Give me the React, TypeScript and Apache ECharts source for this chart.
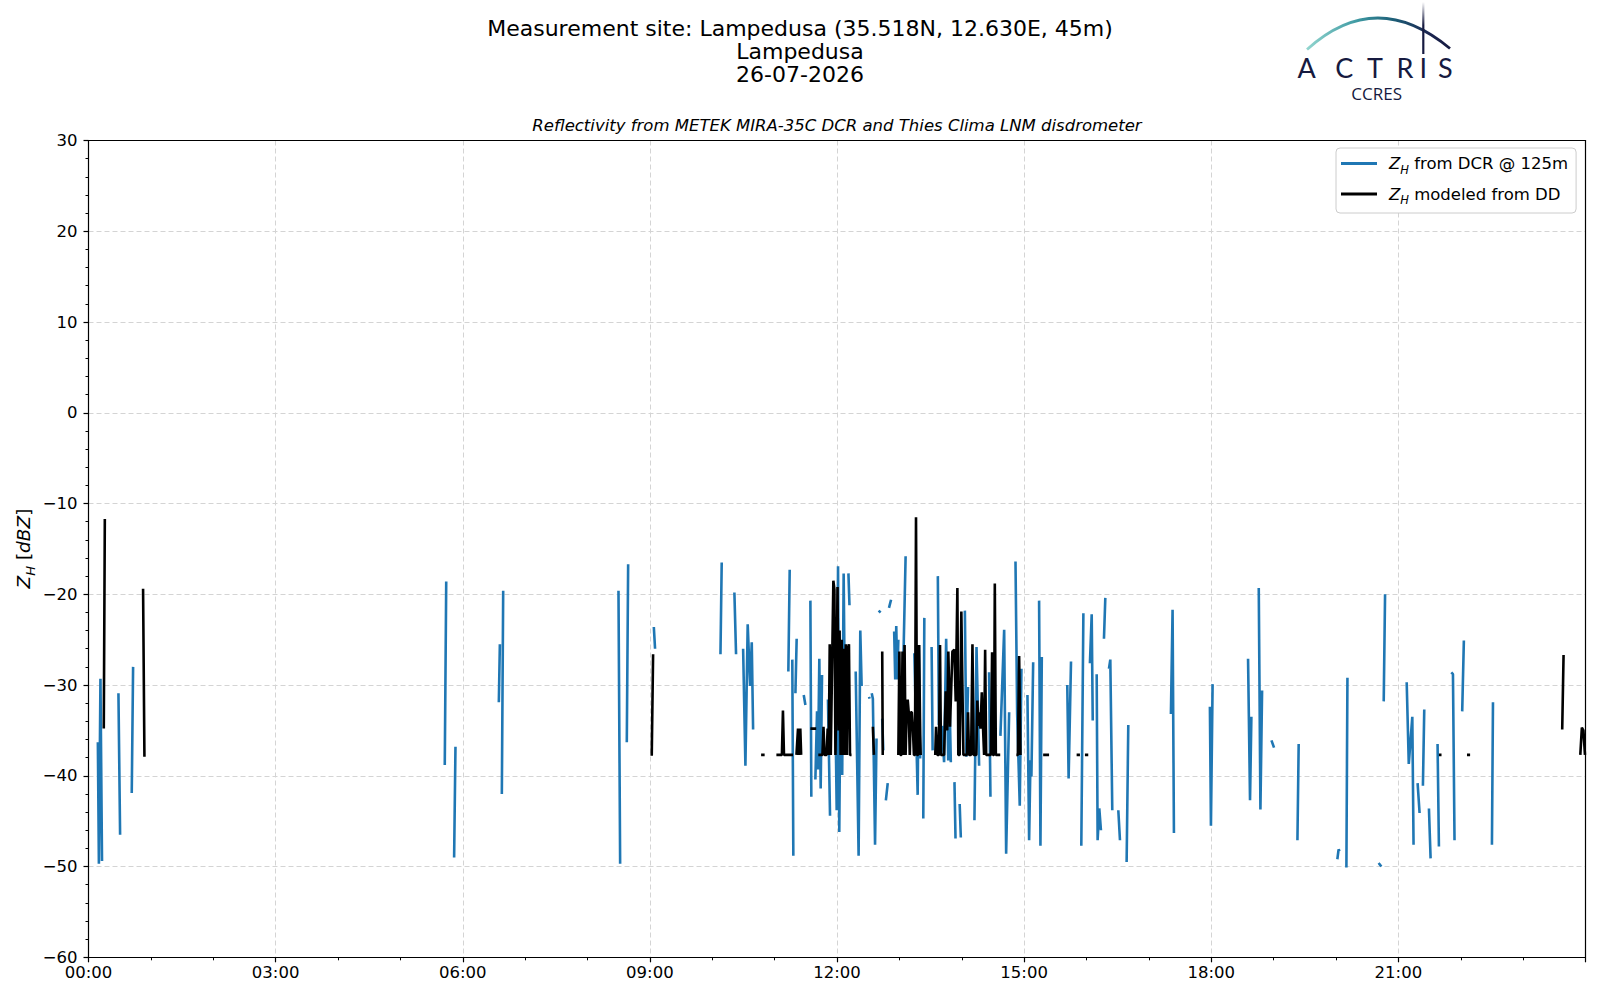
import React, { useEffect, useRef } from "react";
import * as echarts from "echarts";

// x axis: minutes after midnight, major ticks every 3 h
const xTickMinutes = [0, 180, 360, 540, 720, 900, 1080, 1260, 1440];
const yTicks = [-60, -50, -40, -30, -20, -10, 0, 10, 20, 30];

const titleLines = [
  "Measurement site: Lampedusa (35.518N, 12.630E, 45m)",
  "Lampedusa",
  "26-07-2026",
];
const subtitle = "Reflectivity from METEK MIRA-35C DCR and Thies Clima LNM disdrometer";
const legendNames = ["Z_H from DCR @ 125m", "Z_H modeled from DD"];

// Z_H from DCR @ 125m : [minute of day, dBZ], null = gap
const dcrPoints: ([number, number] | null)[] = [
  [9, -36.3], [10, -49.7], [11.5, -29.3], [13, -49.4], null,
  [28.8, -30.9], [30.4, -46.5], null,
  [41.6, -41.9], [42.9, -28.0], null,
  [342.7, -38.8], [344.1, -18.6], null,
  [351.7, -49.0], [353, -36.8], null,
  [394.7, -31.9], [395.7, -25.5], null,
  [397.6, -42.0], [398.9, -19.6], null,
  [509.8, -19.6], [511.4, -49.7], null,
  [517.8, -36.3], [519.1, -16.7], null,
  [543.8, -23.6], [545, -26.0], null,
  [607.9, -26.6], [609.1, -16.5], null,
  [621.3, -19.8], [622.9, -26.6], null,
  [629.7, -26.0], [631.9, -38.9], [634.1, -23.3], [636.4, -30.1], [638, -25.3], [639.3, -34.9], null,
  [673.2, -28.5], [674.5, -17.3], null,
  [677, -27.2], [678, -48.8], null,
  [680, -30.9], [681.2, -24.9], null,
  [688, -31.1], [689.6, -32.2], null,
  [694.4, -20.7], [695.3, -42.3], null,
  [699.2, -40.4], [700.8, -32.9], [701.7, -39.3], [703, -27.1], [704.3, -41.4], [705.6, -28.9], null,
  [711.3, -31.6], [713.3, -44.4], null,
  [718.7, -34.8], [719.7, -43.8], [721, -16.9], [722.2, -46.2], [723.2, -31.6], [725, -39.9], [726.4, -17.7], [727.5, -31.5], null,
  [731, -17.7], [732, -21.2], null,
  [738, -28.5], [740.8, -48.8], [742.4, -24.0], [743.7, -30.1], null,
  [750.8, -31.3], [751.4, -31.5], null,
  [753.4, -30.9], [754.5, -31.5], [756.6, -47.6], [758, -35.9], null,
  [760, -21.8], [762, -22.0], null,
  [763.5, -33.7], [764.5, -37.2], null,
  [767, -42.7], [768.8, -40.8], null,
  [770, -21.5], [772, -20.6], null,
  [775, -24.1], [776, -29.4], [777, -23.5], [778, -29.4], [779, -25.0], null,
  [783, -31.8], [786, -15.8], null,
  [794.4, -26.5], [797.6, -42.1], [798.8, -25.6], [800, -38.1], null,
  [803, -44.7], [804, -22.6], null,
  [811, -25.8], [812, -37.2], null,
  [817, -18.0], [818, -34.4], null,
  [821, -34.5], [823, -38.5], [825, -24.9], [827, -38.3], null,
  [828.5, -33.0], [829.5, -38.5], null,
  [833, -40.7], [834, -46.9], null,
  [838, -43.1], [839.1, -46.8], null,
  [843, -21.8], [844.5, -37.9], [846, -30.2], null,
  [852.2, -44.9], [854.2, -25.8], [856.7, -38.9], null,
  [866.3, -28.6], [867.6, -42.3], null,
  [877.2, -35.6], [880.8, -23.9], [882.7, -48.6], [885.6, -33.0], null,
  [891.7, -16.4], [893.3, -33.2], [895.8, -43.3], [897.4, -28.2], null,
  [903.2, -31.1], [904.8, -47.1], [906.1, -38.3], [907, -40.1], [908.7, -27.5], null,
  [914.4, -20.7], [915.7, -47.7], [917, -26.9], null,
  [941.5, -30.0], [942.8, -40.3], [945.1, -27.4], null,
  [955, -47.7], [957, -22.1], null,
  [963.3, -27.6], [965, -22.2], [966, -33.9], null,
  [969.8, -28.8], [970.7, -47.1], [972.3, -43.6], [973.9, -46.0], null,
  [976.8, -24.9], [978.1, -20.4], null,
  [981.6, -28.2], [982.9, -27.2], [984.8, -43.8], null,
  [990.6, -43.8], [992.2, -47.1], null,
  [998.6, -49.5], [1000.2, -34.4], null,
  [1041.2, -33.2], [1042.8, -21.7], [1044.1, -46.3], null,
  [1078.7, -32.4], [1079.7, -45.5], [1081.3, -29.9], null,
  [1115.4, -27.1], [1117.3, -42.7], [1118.6, -33.5], null,
  [1125.7, -19.3], [1127.3, -43.7], [1128.9, -30.6], null,
  [1137.9, -36.1], [1140.4, -36.9], null,
  [1162.9, -47.1], [1164.1, -36.5], null,
  [1201.3, -49.2], [1202.5, -48.1], [1203.5, -48.3], null,
  [1210, -50.1], [1211, -29.2], null,
  [1241, -49.6], [1243.6, -50.0], null,
  [1245.9, -31.8], [1247.2, -20.0], null,
  [1268, -29.7], [1270, -38.7], [1273.4, -33.5], [1274.6, -47.6], null,
  [1278.5, -40.8], [1280.4, -44.1], null,
  [1283.6, -41.1], [1284.9, -32.7], null,
  [1289.4, -43.6], [1291, -49.1], null,
  [1297.7, -36.5], [1299, -47.8], null,
  [1310.9, -28.6], [1312.5, -28.8], [1314, -47.1], null,
  [1321.4, -32.9], [1323, -25.1], null,
  [1350, -47.6], [1351, -31.9],
];

// Z_H modeled from disdrometer : [minute of day, dBZ], null = gap
const ddPoints: ([number, number] | null)[] = [
  [14.7, -34.8], [15.7, -11.7], null,
  [52.5, -19.4], [53.8, -37.9], null,
  [541.8, -37.8], [543.1, -26.6], null,
  [647, -37.7], [650.4, -37.7], null,
  [661.7, -37.7], [667, -37.7], [668, -32.8], [669, -37.7], [677.7, -37.7], null,
  [681, -37.7], [682.5, -34.8], [683.5, -37.7], [684.7, -34.8], [685.5, -37.7], null,
  [694.4, -34.8], [700, -34.8], null,
  [702, -37.7], [706, -37.7], [707, -34.6], [708, -37.7], [710, -37.7], [711, -34.8], [712, -37.7],
  [713, -25.5], [714, -37.7], [715, -30.0], [716.5, -18.5], [717.5, -19.5], [718.5, -37.7],
  [719.5, -30.0], [720.5, -19.2], [721.5, -35.0], [722.5, -24.0], [723.5, -37.7], [724.5, -25.0],
  [725.5, -37.7], [726.5, -26.0], [727.5, -37.7], [728.5, -25.5], [729.5, -37.7], [730.5, -26.0],
  [731.5, -25.5], [732.5, -37.7], [734, -37.7], null,
  [754.5, -34.6], [755.5, -37.7], null,
  [763.5, -26.3], [764, -37.7], null,
  [779, -37.7], [780, -26.3], [781, -37.7], [782, -37.7], [783, -26.3], [784, -37.7], [785, -25.6],
  [786, -37.7], [787, -33.0], [788, -31.6], [789, -33.0], [790, -37.7], [791, -33.0], [792, -33.0],
  [793, -34.8], [794, -37.7], [795, -37.7], [796, -11.5], [797, -37.7], [798, -37.7], [799, -25.6],
  [800, -35.5], [800.5, -37.7], null,
  [814.5, -37.7], [815.3, -34.6], [816.5, -37.7], [818, -37.7], [819.1, -25.6], [820, -37.7],
  [823, -37.7], [824.6, -30.7], [826, -35.0], [827.1, -26.3], [828.7, -34.6], [831, -26.3],
  [832.9, -26.1], [834.2, -31.8], [835.8, -19.3], [836.7, -37.7], [838, -37.7], [839.6, -21.9],
  [841.6, -37.7], [845, -37.7], [846, -33.0], [847, -37.7], [849, -37.7], [850.3, -25.5],
  [851.5, -37.7], [854, -37.7], [855, -31.7], [856, -34.5], [857, -33.0], [858, -34.8],
  [859.3, -30.8], [860.5, -34.8], [861.5, -37.7], [862.5, -26.1], [863.5, -37.7], [868, -37.7],
  [869.2, -26.4], [870, -37.7], [871, -37.7], [871.8, -18.8], [872.8, -37.7], [877, -37.7], null,
  [892.5, -37.7], [894, -37.7], [895.2, -26.8], [896.5, -37.7], null,
  [918.3, -37.7], [924, -37.7], null,
  [950.5, -37.7], [953.7, -37.7], null,
  [958.5, -37.7], [961.7, -37.7], null,
  [1299, -37.7], [1301.5, -37.7], null,
  [1326, -37.7], [1329, -37.7], null,
  [1417.6, -34.9], [1418.9, -26.7], null,
  [1435, -37.7], [1436.5, -34.7], [1438, -35.0], [1439.5, -37.7],
];

const BLUE = "#1f77b4";
const NAVY = "#161a40";
const FONT = "DejaVu Sans";
const GRID_LEFT = 88.5;
const GRID_RIGHT = 14.5;
const GRID_TOP = 140.5;
const GRID_BOTTOM = 42.7;

function toLineData(points: ([number, number] | null)[]) {
  const out: any[] = [];
  let lastX = 0;
  for (const p of points) {
    if (p === null) out.push([lastX + 0.05, "-"]);
    else {
      out.push(p);
      lastX = p[0];
    }
  }
  return out;
}

const pad2 = (n: number) => String(n).padStart(2, "0");
const fmtTime = (v: number) =>
  v >= 1440 ? "" : `${pad2(Math.floor(v / 60))}:${pad2(Math.round(v % 60))}`;
const fmtY = (v: number) => (v < 0 ? "\u2212" + Math.abs(v) : String(v));
const legendRich = (name: string) => {
  const rest = name.replace(/^Z_H/, "");
  return `{i|Z}{s|H}{n|${rest}}`;
};

const splitLineStyle = {
  show: true,
  showMinLine: false,
  showMaxLine: false,
  lineStyle: { color: "#d4d4d4", type: [5, 3], width: 1 },
};

export default function App() {
  const ref = useRef<HTMLDivElement>(null);
  useEffect(() => {
    if (!ref.current) return;
    const chart = echarts.init(ref.current, undefined, { renderer: "svg" });
    const arcGrad = new echarts.graphic.LinearGradient(
      1306,
      0,
      1451,
      0,
      [
        { offset: 0, color: "#93d6cf" },
        { offset: 0.35, color: "#3f9aa3" },
        { offset: 0.6, color: "#1d5f78" },
        { offset: 0.85, color: "#1b2550" },
        { offset: 1, color: NAVY },
      ],
      true
    );
    const mastGrad = new echarts.graphic.LinearGradient(
      0,
      2,
      0,
      54,
      [
        { offset: 0, color: "rgba(22,26,64,0)" },
        { offset: 0.45, color: NAVY },
        { offset: 1, color: NAVY },
      ],
      true
    );
    const letters = [
      ["A", 1306.7],
      ["C", 1344.2],
      ["T", 1375],
      ["R", 1405],
      ["I", 1423.3],
      ["S", 1445.3],
    ];
    const frameLine = { show: true, onZero: false, lineStyle: { color: "#000", width: 1.2 } };
    const option: any = {
      animation: false,
      backgroundColor: "#ffffff",
      textStyle: { fontFamily: FONT },
      grid: {
        left: GRID_LEFT,
        right: GRID_RIGHT,
        top: GRID_TOP,
        bottom: GRID_BOTTOM,
        show: false,
        containLabel: false,
      },
      legend: {
        show: true,
        orient: "vertical",
        left: 1336,
        top: 148,
        padding: [7, 8, 7, 5],
        itemWidth: 36,
        itemHeight: 3,
        itemGap: 10,
        icon: "rect",
        backgroundColor: "#ffffff",
        borderColor: "#cccccc",
        borderWidth: 1,
        borderRadius: 4,
        data: legendNames,
        formatter: (name: string) => legendRich(name),
        textStyle: {
          fontFamily: FONT,
          fontSize: 16.5,
          color: "#000",
          padding: [0, 0, 0, 7],
          rich: {
            i: { fontFamily: FONT, fontStyle: "italic", fontSize: 16.5, lineHeight: 24, color: "#000" },
            s: { fontFamily: FONT, fontStyle: "italic", fontSize: 11.5, lineHeight: 11, verticalAlign: "bottom", color: "#000" },
            n: { fontFamily: FONT, fontSize: 16.5, lineHeight: 24, color: "#000" },
          },
        },
      },
      xAxis: [
        {
          type: "value",
          min: 0,
          max: 1440,
          interval: 180,
          position: "bottom",
          axisLine: frameLine,
          axisTick: { show: true, length: 5, lineStyle: { color: "#000", width: 1.2 } },
          minorTick: { show: true, splitNumber: 3, length: 3, lineStyle: { color: "#000", width: 1 } },
          axisLabel: {
            formatter: fmtTime,
            fontFamily: FONT,
            fontSize: 16.5,
            color: "#000",
            margin: 7,
            showMaxLabel: false,
          },
          splitLine: splitLineStyle,
        },
        {
          type: "value",
          min: 0,
          max: 1440,
          interval: 180,
          position: "top",
          axisLine: frameLine,
          axisTick: { show: false },
          axisLabel: { show: false },
          splitLine: { show: false },
        },
      ],
      yAxis: [
        {
          type: "value",
          min: -60,
          max: 30,
          interval: 10,
          position: "left",
          axisLine: frameLine,
          axisTick: { show: true, length: 5, lineStyle: { color: "#000", width: 1.2 } },
          minorTick: { show: true, splitNumber: 5, length: 3, lineStyle: { color: "#000", width: 1 } },
          axisLabel: {
            formatter: fmtY,
            fontFamily: FONT,
            fontSize: 16.5,
            color: "#000",
            margin: 11,
          },
          splitLine: splitLineStyle,
        },
        {
          type: "value",
          min: -60,
          max: 30,
          interval: 10,
          position: "right",
          axisLine: frameLine,
          axisTick: { show: false },
          axisLabel: { show: false },
          splitLine: { show: false },
        },
      ],
      series: [
        {
          name: legendNames[0],
          type: "line",
          xAxisIndex: 0,
          yAxisIndex: 0,
          data: toLineData(dcrPoints),
          showSymbol: false,
          symbol: "none",
          connectNulls: false,
          color: BLUE,
          lineStyle: { color: BLUE, width: 2.6 },
          emphasis: { disabled: true },
          z: 2,
        },
        {
          name: legendNames[1],
          type: "line",
          xAxisIndex: 0,
          yAxisIndex: 0,
          data: toLineData(ddPoints),
          showSymbol: false,
          symbol: "none",
          connectNulls: false,
          color: "#000",
          lineStyle: { color: "#000", width: 2.6 },
          emphasis: { disabled: true },
          z: 3,
        },
      ],
      graphic: [
        ...titleLines.map((t, i) => ({
          type: "text",
          x: 800,
          y: 28.6 + i * 23,
          style: {
            text: t,
            fontFamily: FONT,
            fontSize: 22,
            fill: "#000",
            textAlign: "center",
            textVerticalAlign: "middle",
          },
        })),
        {
          type: "text",
          x: 837,
          y: 125.6,
          style: {
            text: subtitle,
            fontFamily: FONT,
            fontStyle: "italic",
            fontSize: 16.5,
            fill: "#000",
            textAlign: "center",
            textVerticalAlign: "middle",
          },
        },
        {
          type: "text",
          x: 23,
          y: 548.5,
          rotation: Math.PI / 2,
          style: {
            text: "{i|Z}{s|H}{n| [}{i|dBZ}{n|]}",
            fontFamily: FONT,
            fontSize: 18.5,
            fill: "#000",
            textAlign: "center",
            textVerticalAlign: "middle",
            rich: {
              i: { fontFamily: FONT, fontStyle: "italic", fontSize: 18.5, lineHeight: 28, fill: "#000" },
              s: { fontFamily: FONT, fontStyle: "italic", fontSize: 13, lineHeight: 13, verticalAlign: "bottom", fill: "#000" },
              n: { fontFamily: FONT, fontSize: 18.5, lineHeight: 28, fill: "#000" },
            },
          },
        },
        // ACTRIS logo
        {
          type: "bezierCurve",
          shape: { x1: 1307, y1: 49.5, x2: 1450, y2: 48.5, cpx1: 1376, cpy1: -13 },
          style: { stroke: arcGrad, lineWidth: 2.8, fill: null },
        },
        {
          type: "line",
          shape: { x1: 1423.3, y1: 2, x2: 1423.3, y2: 54 },
          style: { stroke: mastGrad, lineWidth: 2.2 },
        },
        ...letters.map(([ch, x]) => ({
          type: "text",
          x: x as number,
          y: 67.8,
          style: {
            text: ch as string,
            fontFamily: "Lato",
            fontSize: 27,
            lineHeight: 22,
            fill: NAVY,
            textAlign: "center",
            textVerticalAlign: "middle",
          },
        })),
        {
          type: "text",
          x: 1376.7,
          y: 93.3,
          style: {
            text: "CCRES",
            fontFamily: "Open Sans",
            fontSize: 17,
            lineHeight: 16,
            fill: NAVY,
            textAlign: "center",
            textVerticalAlign: "middle",
          },
        },
      ],
    };
    chart.setOption(option);
    return () => chart.dispose();
  }, []);
  return (
    <div
      ref={ref}
      style={{ position: "fixed", left: 0, top: 0, width: 1600, height: 1000, background: "#fff" }}
    />
  );
}
